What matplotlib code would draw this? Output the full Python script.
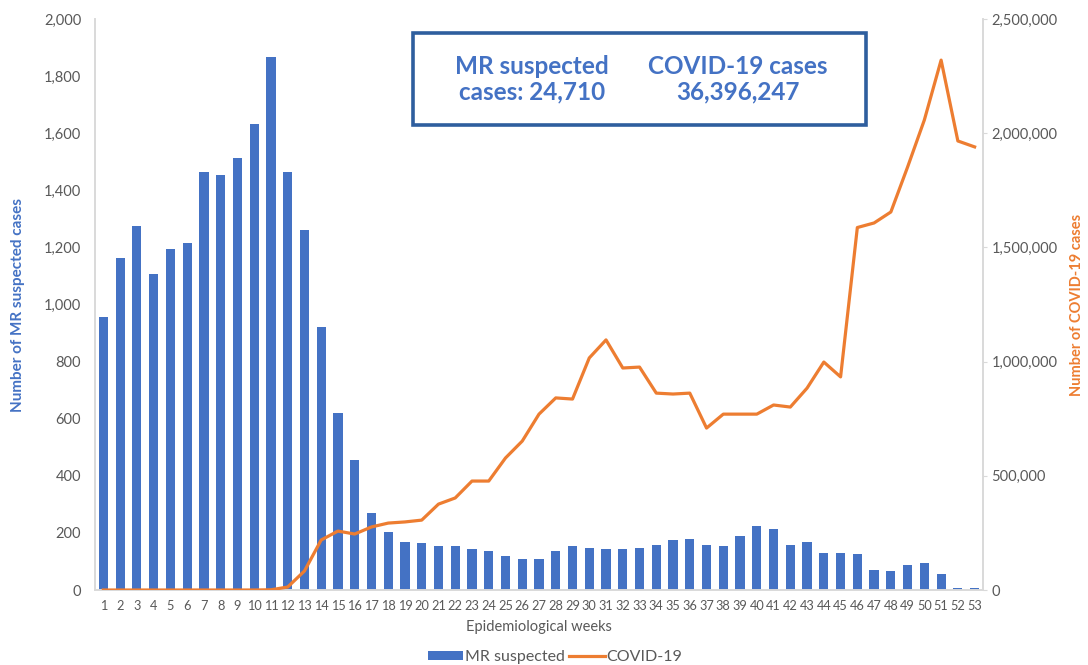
import matplotlib
matplotlib.use("Agg")
import matplotlib.pyplot as plt
from matplotlib.ticker import FuncFormatter, MultipleLocator
from matplotlib.patches import Rectangle

plt.rcParams['font.family'] = ['Lato', 'DejaVu Sans']

weeks = list(range(1, 54))
mr_suspected = [956, 1163, 1275, 1107, 1194, 1215, 1464, 1454, 1513, 1632,
                1867, 1464, 1261, 921, 620, 455, 270, 203, 168, 165,
                154, 154, 144, 137, 119, 109, 109, 137, 154, 147,
                144, 144, 147, 158, 175, 179, 158, 154, 189, 224,
                213, 158, 168, 130, 130, 126, 70, 66, 88, 95,
                56, 6, 6]
covid19 = [0, 0, 0, 0, 0, 0, 0, 0, 0, 0,
           1000, 13000, 83000, 219000, 258000, 245000, 276000, 293000, 298000, 306000,
           376000, 403000, 477000, 477000, 578000, 652000, 770000, 841000, 836000, 1016000,
           1095000, 972000, 976000, 862000, 858000, 862000, 709000, 770000, 770000, 770000,
           810000, 801000, 884000, 998000, 933000, 1587000, 1607000, 1655000, 1852000, 2058000,
           2320000, 1966000, 1940000]
box_labels = ["MR suspected\ncases: 24,710", "COVID-19 cases\n36,396,247"]

blue = '#4472C4'
orange = '#ED7D31'
grey = '#595959'
spine = '#D9D9D9'

fig = plt.figure(figsize=(10.88, 6.65), dpi=100)
ax = fig.add_axes([95/1088, 1-590/665, (983-95)/1088, (590-19)/665])
ax2 = ax.twinx()

bars = ax.bar(weeks, mr_suspected, width=0.55, color=blue, label='MR suspected', zorder=2)
line, = ax2.plot(weeks, covid19, color=orange, lw=2.3, label='COVID-19', zorder=3)

ax.set_xlim(0.5, 53.5)
ax.set_ylim(0, 2000)
ax2.set_ylim(0, 2500000)
ax.yaxis.set_major_locator(MultipleLocator(200))
ax2.yaxis.set_major_locator(MultipleLocator(500000))
fmt = FuncFormatter(lambda v, p: f"{int(v):,}")
ax.yaxis.set_major_formatter(fmt)
ax2.yaxis.set_major_formatter(fmt)
ax.set_xticks(weeks)
ax.set_xticklabels([str(w) for w in weeks], fontsize=9.2, color=grey)

for a in (ax, ax2):
    for s in a.spines.values():
        s.set_color(spine)
        s.set_linewidth(1.2)
    a.spines['top'].set_visible(False)

ax.tick_params(axis='y', length=0, labelsize=10.5, labelcolor=grey, pad=10)
ax.tick_params(axis='x', length=0, pad=7)
ax2.tick_params(axis='y', length=3, color=spine, labelsize=10.5, labelcolor=grey, pad=3)

fig.text(18/1088, 1-305/665, 'Number of MR suspected cases', color=blue, fontsize=11,
         fontweight='bold', rotation=90, ha='center', va='center')
fig.text(1077/1088, 1-305/665, 'Number of COVID-19 cases', color=orange, fontsize=10.5,
         fontweight='bold', rotation=90, ha='center', va='center')
ax.set_xlabel('Epidemiological weeks', color=grey, fontsize=10.5, labelpad=6)

# summary box
box = Rectangle((413/1088, 1-125/665), (866-413)/1088, (125-33)/665, transform=fig.transFigure,
                fill=False, edgecolor='#2E5E9E', lw=2.6, zorder=5)
fig.patches.append(box)
fig.text(532/1088, 1-79/665, box_labels[0], ha='center', va='center', color=blue,
         fontsize=17.5, fontweight='bold', linespacing=1.1)
fig.text(738/1088, 1-79/665, box_labels[1], ha='center', va='center', color=blue,
         fontsize=17.5, fontweight='bold', linespacing=1.1)

leg = fig.legend(handles=[bars, line], labels=['MR suspected', 'COVID-19'], loc='center',
                 bbox_to_anchor=(555/1088, 1-657/665), ncol=2, frameon=False, fontsize=11.5,
                 handlelength=2.2, handletextpad=0.1, columnspacing=0.3, handleheight=0.5)
for t in leg.get_texts():
    t.set_color(grey)

fig.savefig('out.png', dpi=100, facecolor='white')
